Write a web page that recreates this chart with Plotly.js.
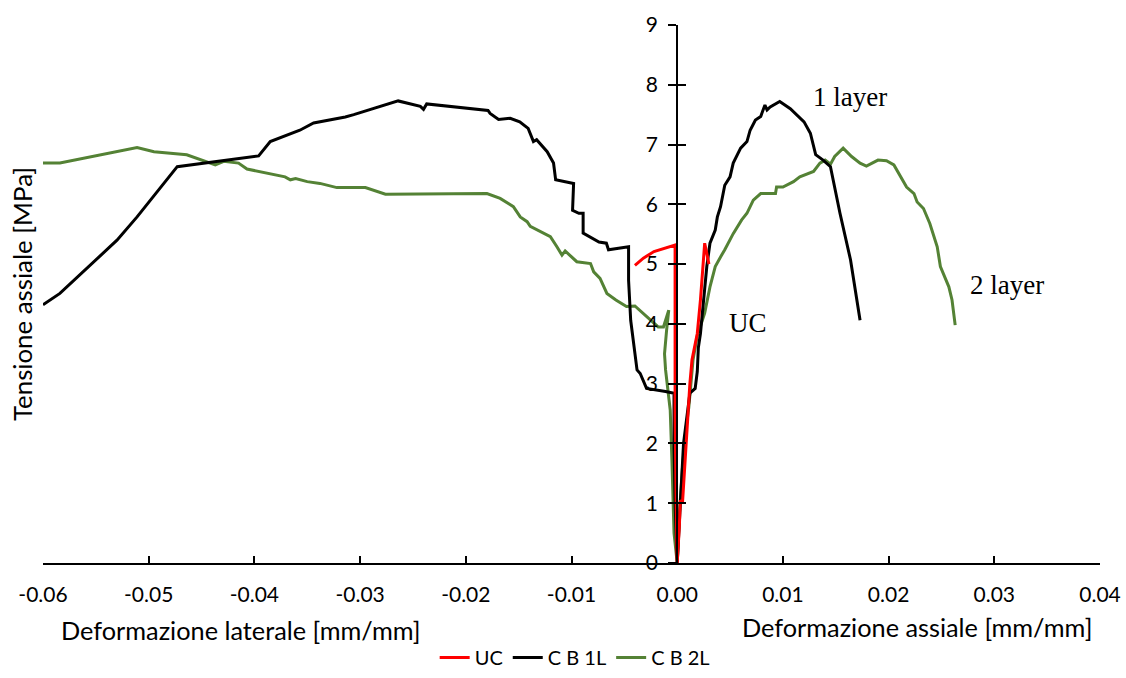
<!DOCTYPE html>
<html>
<head>
<meta charset="utf-8">
<script src="https://cdn.plot.ly/plotly-3.0.1.min.js"></script>
<style>
html,body{margin:0;padding:0;background:#fff;}
#chart{width:1126px;height:678px;}
</style>
</head>
<body>
<div id="chart"></div>
<script>
// ---- Data ----
const seriesNames = ["UC", "C B 1L", "C B 2L"];

// UC: lateral branch (from origin outwards) and axial branch
const ucLatX = [0, -0.0001, -0.0002, -0.0002, -0.0002, -0.0022, -0.0032, -0.0040];
const ucLatY = [0, 1.0, 2.5, 4.0, 5.32, 5.21, 5.10, 4.98];
const ucAxX  = [0, 0.0002, 0.0003, 0.0005, 0.0007, 0.0009, 0.0012, 0.0014, 0.0019, 0.0022, 0.0025, 0.0026, 0.0028, 0.0030];
const ucAxY  = [0, 0.6, 1.05, 1.0, 1.6, 2.17, 3.0, 3.4, 3.84, 4.4, 5.07, 5.35, 5.18, 5.0];

// C B 1L
const cb1LatX = [0, -0.0002, -0.0003, -0.0003, -0.0011, -0.0029, -0.0035, -0.0038, -0.0041, -0.0044, -0.0046, -0.0046,
  -0.0065, -0.0067, -0.0074, -0.0089, -0.0089, -0.0093, -0.0099, -0.0098, -0.0115, -0.0117, -0.0123, -0.0133, -0.0136,
  -0.0141, -0.0149, -0.0158, -0.0169, -0.0177, -0.0179, -0.0237, -0.0240, -0.0243, -0.0264, -0.0281, -0.0306, -0.0314,
  -0.0344, -0.0357, -0.0385, -0.0396, -0.0473, -0.0511, -0.0530, -0.0584, -0.0600];
const cb1LatY = [0, 1.0, 2.0, 2.84, 2.87, 2.92, 3.17, 3.23, 3.67, 4.06, 4.73, 5.29,
  5.24, 5.35, 5.37, 5.52, 5.85, 5.85, 5.90, 6.35, 6.41, 6.69, 6.88, 7.08, 7.05,
  7.27, 7.38, 7.44, 7.42, 7.52, 7.57, 7.68, 7.59, 7.64, 7.73, 7.63, 7.50, 7.46,
  7.36, 7.24, 7.05, 6.81, 6.63, 5.79, 5.40, 4.51, 4.32];
const cb1AxX = [0, 0.0003, 0.0006, 0.0012, 0.0017, 0.0019, 0.0020, 0.0022, 0.0025, 0.0028, 0.0031, 0.0036, 0.0038,
  0.0041, 0.0045, 0.0050, 0.0053, 0.0060, 0.0066, 0.0069, 0.0074, 0.0079, 0.0083, 0.0085, 0.0088, 0.0097, 0.0107,
  0.0120, 0.0126, 0.0131, 0.0138, 0.0145, 0.0154, 0.0164, 0.0173];
const cb1AxY = [0, 1.0, 2.0, 2.84, 2.92, 3.2, 3.6, 3.84, 4.4, 4.96, 5.35, 5.57, 5.79,
  5.96, 6.32, 6.46, 6.69, 6.94, 7.05, 7.24, 7.41, 7.47, 7.66, 7.58, 7.63, 7.72, 7.60,
  7.38, 7.19, 6.83, 6.74, 6.63, 5.85, 5.07, 4.06];

// C B 2L
const cb2LatX = [0, -0.0003, -0.0004, -0.0005, -0.00066, -0.0008, -0.0011, -0.0012, -0.0010, -0.0008, -0.0013, -0.0018,
  -0.0026, -0.0035, -0.0040, -0.0048, -0.0058, -0.00665, -0.0073, -0.0079, -0.0082, -0.0095, -0.0106, -0.0109, -0.01138,
  -0.0120, -0.0139, -0.0142, -0.01485, -0.0155, -0.01675, -0.0180, -0.0262, -0.0276, -0.0295, -0.0322, -0.0338, -0.0350,
  -0.0361, -0.0366, -0.0371, -0.0407, -0.0415, -0.0429, -0.0437, -0.0451, -0.0464, -0.0495, -0.0511, -0.0584, -0.0600];
const cb2LatY = [0, 0.5, 1.0, 1.72, 2.56, 2.78, 3.23, 3.5, 3.9, 4.23, 3.95, 3.95,
  4.09, 4.22, 4.30, 4.29, 4.40, 4.51, 4.76, 4.87, 5.01, 5.04, 5.22, 5.15, 5.29,
  5.46, 5.63, 5.71, 5.79, 5.96, 6.10, 6.18, 6.17, 6.17, 6.28, 6.28, 6.35, 6.38,
  6.43, 6.41, 6.46, 6.59, 6.69, 6.72, 6.66, 6.75, 6.83, 6.88, 6.95, 6.69, 6.69];
const cb2AxX = [0, 0.0002, 0.0005, 0.0008, 0.0011, 0.0015, 0.0019, 0.0022, 0.0026, 0.0031, 0.0036, 0.0041, 0.0045,
  0.0053, 0.0061, 0.0066, 0.0072, 0.0079, 0.0093, 0.0094, 0.0100, 0.0110, 0.0116, 0.0129, 0.0135, 0.0140, 0.0145,
  0.0149, 0.0157, 0.0165, 0.0173, 0.0179, 0.0190, 0.0198, 0.0205, 0.0217, 0.0224, 0.0227, 0.0233, 0.0239, 0.0246,
  0.0249, 0.0257, 0.0260, 0.0263];
const cb2AxY = [0, 0.8, 1.6, 2.2, 2.61, 3.4, 3.8, 3.95, 4.18, 4.62, 4.96, 5.12, 5.24,
  5.51, 5.74, 5.85, 6.07, 6.18, 6.18, 6.29, 6.29, 6.38, 6.46, 6.55, 6.69, 6.74, 6.67,
  6.80, 6.94, 6.80, 6.69, 6.64, 6.74, 6.73, 6.66, 6.29, 6.18, 6.04, 5.93, 5.68, 5.29,
  4.96, 4.62, 4.40, 3.98];

// Axis ticks
const xTickVals = [-0.06, -0.05, -0.04, -0.03, -0.02, -0.01, 0.00, 0.01, 0.02, 0.03, 0.04];
const xTickText = ["-0.06", "-0.05", "-0.04", "-0.03", "-0.02", "-0.01", "0.00", "0.01", "0.02", "0.03", "0.04"];
const yTickVals = [0, 1, 2, 3, 4, 5, 6, 7, 8, 9];
const yTickText = ["0", "1", "2", "3", "4", "5", "6", "7", "8", "9"];

// Text labels
const xTitleLateral = "Deformazione laterale [mm/mm]";
const xTitleAxial = "Deformazione assiale [mm/mm]";
const yTitle = "Tensione assiale [MPa]";
const curveLabels = ["1 layer", "2 layer", "UC"];
const curveLabelX = [0.01637, 0.0312, 0.0067];
const curveLabelY = [7.8, 4.65, 4.01];

// ---- Build ----
function joinBranches(latX, latY, axX, axY) {
  const x = latX.slice().reverse().concat(axX.slice(1));
  const y = latY.slice().reverse().concat(axY.slice(1));
  return {x, y};
}
const uc = joinBranches(ucLatX, ucLatY, ucAxX, ucAxY);
const cb1 = joinBranches(cb1LatX, cb1LatY, cb1AxX, cb1AxY);
const cb2 = joinBranches(cb2LatX, cb2LatY, cb2AxX, cb2AxY);

const sansFont = "Lato, 'Open Sans', sans-serif";
const serifFont = "'Liberation Serif', 'Times New Roman', serif";

const traces = [
  {x: cb2.x, y: cb2.y, name: seriesNames[2], mode: "lines", line: {color: "#548235", width: 3}, legendrank: 3},
  {x: cb1.x, y: cb1.y, name: seriesNames[1], mode: "lines", line: {color: "#000000", width: 3}, legendrank: 2},
  {x: uc.x, y: uc.y, name: seriesNames[0], mode: "lines", line: {color: "#FF0000", width: 3}, legendrank: 1},
  {x: [], y: [], yaxis: "y2", showlegend: false, hoverinfo: "skip", mode: "lines"}
];

const annotations = [
  {text: xTitleLateral, xref: "x", yref: "paper", x: -0.04125, y: -0.1245, showarrow: false,
   font: {family: sansFont, size: 25.3, color: "#000"}, xanchor: "center", yanchor: "middle"},
  {text: xTitleAxial, xref: "x", yref: "paper", x: 0.02266, y: -0.119, showarrow: false,
   font: {family: sansFont, size: 25.3, color: "#000"}, xanchor: "center", yanchor: "middle"},
  {text: yTitle, xref: "paper", yref: "paper", x: -0.0199, y: 0.5, showarrow: false, textangle: -90,
   font: {family: sansFont, size: 25.8, color: "#000"}, xanchor: "center", yanchor: "middle"}
];
curveLabels.forEach((t, i) => annotations.push({
  text: t, xref: "x", yref: "y", x: curveLabelX[i], y: curveLabelY[i], showarrow: false,
  font: {family: serifFont, size: 27, color: "#000"}, xanchor: "center", yanchor: "middle"
}));

const layout = {
  width: 1126, height: 678,
  margin: {l: 43, r: 26, t: 25, b: 115, autoexpand: false},
  paper_bgcolor: "#fff", plot_bgcolor: "#fff",
  showlegend: true,
  legend: {orientation: "h", x: 0.503, xanchor: "center", y: -0.212, yanchor: "bottom",
           font: {family: sansFont, size: 20, color: "#000"}, itemwidth: 30},
  xaxis: {range: [-0.06, 0.04], domain: [0, 1], showgrid: false, zeroline: false,
          showline: true, linecolor: "#000", linewidth: 2,
          ticks: "inside", ticklen: 7, tickwidth: 2, tickcolor: "#000",
          tickmode: "array", tickvals: xTickVals, ticktext: xTickText,
          ticklabelstandoff: 12, automargin: false,
          tickfont: {family: sansFont, size: 21, color: "#000"}, fixedrange: true},
  yaxis: {range: [0, 9], anchor: "free", position: 0.6, side: "left",
          showgrid: false, zeroline: false, showline: true, linecolor: "#000", linewidth: 2,
          ticks: "outside", ticklen: 8, tickwidth: 2, tickcolor: "#000",
          tickmode: "array", tickvals: yTickVals, ticktext: yTickText,
          ticklabelstandoff: 6, automargin: false,
          tickfont: {family: sansFont, size: 21, color: "#000"}, fixedrange: true},
  yaxis2: {range: [0, 9], overlaying: "y", anchor: "free", position: 0.6, side: "left",
           showgrid: false, zeroline: false, showline: false, automargin: false,
           ticks: "inside", ticklen: 8, tickwidth: 2, tickcolor: "#000",
           tickmode: "array", tickvals: yTickVals, showticklabels: false, fixedrange: true},
  annotations: annotations
};

Plotly.newPlot("chart", traces, layout, {staticPlot: true, displayModeBar: false});
</script>
</body>
</html>
